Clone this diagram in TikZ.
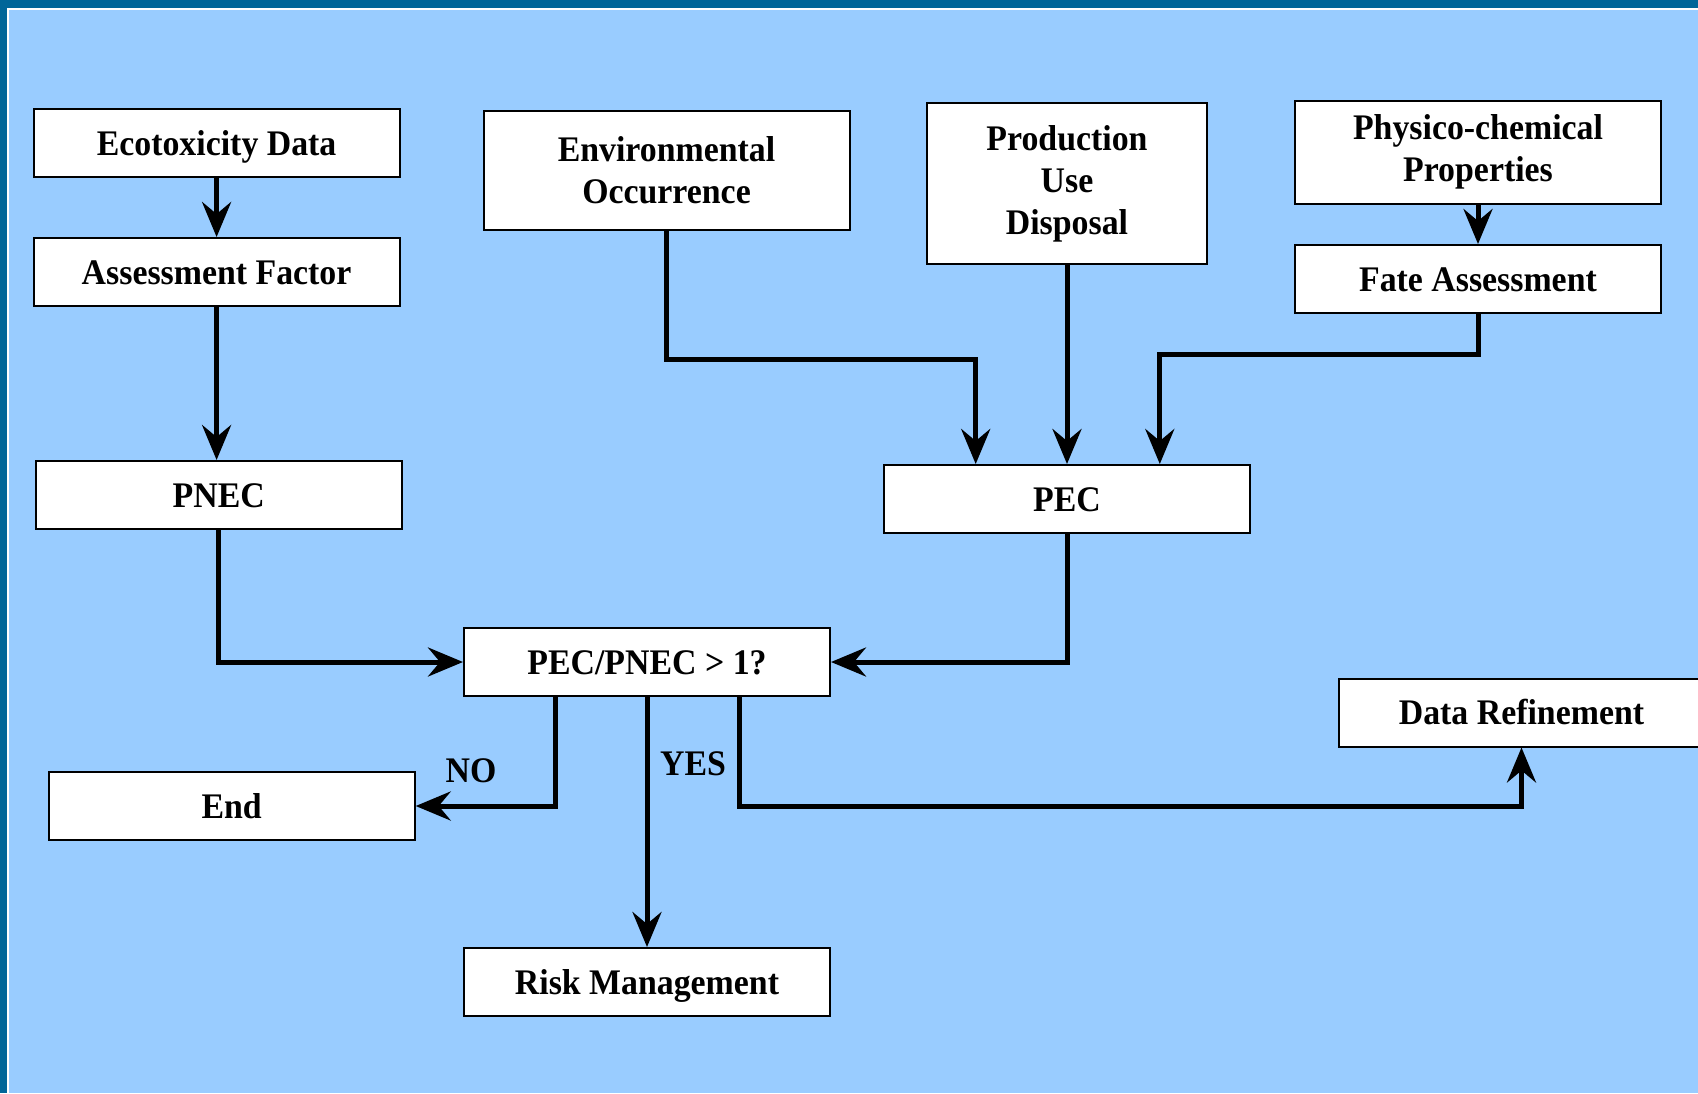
\documentclass[tikz,border=0pt]{standalone}
\usepackage{fontspec}
\setmainfont[FakeStretch=0.94]{Liberation Serif}
\usetikzlibrary{arrows.meta}
\definecolor{frameblue}{HTML}{006699}
\definecolor{skyblue}{HTML}{99CCFF}

\begin{document}
\begin{tikzpicture}[x=1pt,y=-1pt,
  tallbox/.style={draw,fill=white,line width=2pt,minimum width=366pt,minimum height=68pt,inner sep=0pt,align=center,font=\fontsize{36}{42}\selectfont\bfseries},
  box/.style={tallbox,text height=30pt,text depth=6pt},
  flow/.style={line width=5pt,-{Stealth[length=35pt,width=29pt,inset=12pt]}},
  lbl/.style={font=\fontsize{36}{42}\selectfont\bfseries}]
\path[use as bounding box,clip] (0,0) rectangle (1698,1093);
\fill[frameblue] (0,0) rectangle (1698,1093);
\fill[white] (7,7.5) rectangle (1698,1093);
\fill[skyblue] (9,9.5) rectangle (1698,1093);

\node[box] (eco) at (216.6,143) {Ecotoxicity Data};
\node[box] (asf) at (216.6,272) {Assessment Factor};
\node[box] (pnec) at (218.7,495) {PNEC};
\node[tallbox,minimum height=119pt] (env) at (666.5,170) {Environmental\\Occurrence};
\node[tallbox,minimum width=280pt,minimum height=161pt] (prod) at (1067,183.5) {Production\\Use\\Disposal};
\node[tallbox,minimum height=103pt] (phys) at (1478,152) {Physico-chemical\\Properties};
\node[box] (fate) at (1478,279) {Fate Assessment};
\node[box] (pec) at (1067,499) {PEC};
\node[box] (ratio) at (647,662) {PEC/PNEC > 1?};
\node[box] (end) at (231.7,806) {End};
\node[box] (risk) at (647,982) {Risk Management};
\node[box] (refine) at (1521.5,712.5) {Data Refinement};
\node[lbl] (no) at (471,771) {NO};
\node[lbl] (yes) at (693,764) {YES};

\coordinate (envbend) at (975.7,359.5);
\coordinate (fatebend) at (1159.8,354);
\coordinate (noleg) at (555.5,806);
\coordinate (refleg) at (739.6,806);

\draw[flow] (eco) -- (asf);
\draw[flow] (asf.south) -- (asf.south |- pnec.north);
\draw[flow] (phys) -- (fate);
\draw[flow] (env.south) |- (envbend) -- (envbend |- pec.north);
\draw[flow] (prod.south) -- (pec.north);
\draw[flow] (fate.south) |- (fatebend) -- (fatebend |- pec.north);
\draw[flow] (pnec.south) |- (ratio.west);
\draw[flow] (pec.south) |- (ratio.east);
\draw[flow] (noleg |- ratio.south) |- (end.east);
\draw[flow] (ratio.south) -- (risk.north);
\draw[flow] (refleg |- ratio.south) -- (refleg) -| (refine.south);
\end{tikzpicture}
\end{document}
